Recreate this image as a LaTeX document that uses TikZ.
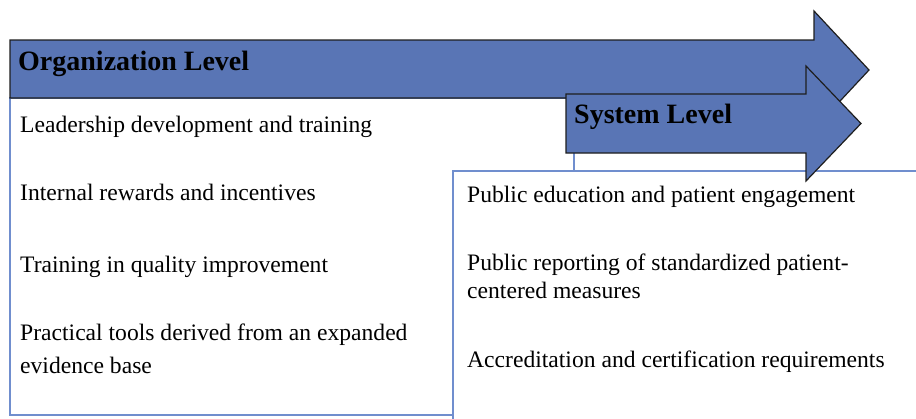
\documentclass[tikz,border=0pt]{standalone}
\usepackage{fontspec}
\setmainfont{Liberation Serif}
\definecolor{arrowfill}{RGB}{89,117,181}
\definecolor{arrowedge}{RGB}{30,30,30}
\definecolor{boxline}{RGB}{112,142,206}
\begin{document}
\begin{tikzpicture}[x=1pt,y=-1pt,
  levelarrow/.style={fill=arrowfill, draw=arrowedge, line width=1.2pt, line join=miter},
  levelbox/.style={fill=white, draw=boxline, line width=1.5pt},
  item/.style={anchor=base west, inner sep=0pt, font=\fontsize{23.6}{28}\selectfont},
  leveltitle/.style={anchor=base west, inner sep=0pt, font=\fontsize{28}{32}\selectfont\bfseries}]
\useasboundingbox (0,0) rectangle (916,418);
\begin{scope}
\clip (0,0) rectangle (916,418);
% organisation level: content box and arrow
\draw[levelbox] (10,98) rectangle (574,415);
\draw[levelarrow] (10,40) -- (814,40) -- (814,11) -- (869,70) -- (814,129)
  -- (814,98) -- (10,98) -- cycle;
\node[leveltitle] (orgtitle) at (18,70) {Organization Level};
\node[item] (org1) at (20,132) {Leadership development and training};
\node[item] (org2) at (20,200) {Internal rewards and incentives};
\node[item] (org3) at (20,272) {Training in quality improvement};
\node[item] (org4a) at (20,340) {Practical tools derived from an expanded};
\node[item] (org4b) at (20,373) {evidence base};
% system level: content box and arrow
\draw[levelbox] (453,171) rectangle (940,440);
\draw[levelarrow] (566,94) -- (806,94) -- (806,66) -- (861,123.5) -- (806,181)
  -- (806,153) -- (566,153) -- cycle;
\node[leveltitle] (systitle) at (574,123) {System Level};
\node[item] (sys1) at (467,202) {Public education and patient engagement};
\node[item] (sys2a) at (467,270) {Public reporting of standardized patient-};
\node[item] (sys2b) at (467,298) {centered measures};
\node[item] (sys3) at (467,367) {Accreditation and certification requirements};
\end{scope}
\end{tikzpicture}
\end{document}
